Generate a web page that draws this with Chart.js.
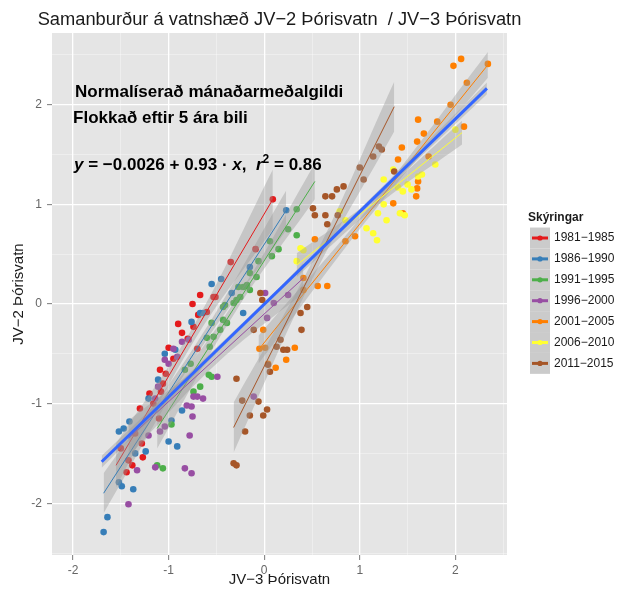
<!DOCTYPE html>
<html>
<head>
<meta charset="utf-8">
<script src="https://cdn.jsdelivr.net/npm/chart.js@4.4.1/dist/chart.umd.min.js"></script>
<style>
  html, body { margin: 0; padding: 0; background: #fff; }
</style>
</head>
<body>
<canvas id="myChart" width="620" height="589"></canvas>
<script>
// Five-year groups of monthly means, JV-3 (x) against JV-2 (y)
const periods = ['1981−1985', '1986−1990', '1991−1995', '1996−2000', '2001−2005', '2006−2010', '2011−2015'];
const periodColors = ['#E41A1C', '#377EB8', '#4DAF4A', '#984EA3', '#FF7F00', '#FFFF33', '#A65628'];

const points1981 = [[-0.86,-0.29],[-0.74,-0.23],[-0.69,-0.11],[-0.60,-0.08],[-1.00,-0.44],[-1.09,-0.66],[-1.03,-0.70],[-1.06,-0.80],[-1.08,-0.88],[-1.16,-1.00],[-1.28,-1.40],[-1.27,-1.54],[-1.42,-1.57],[-1.38,-1.62],[-1.44,-1.69],[-0.67,0.09],[-0.51,0.07],[0.09,1.05],[-0.09,0.55],[-0.35,0.42],[-0.53,0.07],[-1.50,-1.45],[-1.30,-1.05],[-1.20,-0.90],[-0.95,-0.55],[-0.80,-0.35],[-0.90,-0.20],[-0.75,0.00],[-0.70,-0.45],[-1.35,-1.30],[-1.10,-1.15]];
const points1986 = [[-0.76,-0.18],[-0.67,-0.09],[-1.04,-0.50],[-0.93,-0.46],[-1.11,-0.76],[-1.21,-0.95],[-1.41,-1.18],[-1.47,-1.25],[-1.52,-1.28],[-0.97,-1.17],[-0.86,-1.07],[-1.00,-1.38],[-0.91,-1.43],[-1.35,-1.50],[-1.24,-1.48],[-1.52,-1.79],[-1.49,-1.83],[-1.37,-1.86],[-0.22,-0.09],[-0.34,0.11],[-1.68,-2.29],[-1.64,-2.14],[0.23,0.94],[-0.15,0.37],[-0.64,-0.09],[-0.55,0.20],[-0.45,0.25]];
const points1991 = [[0.34,0.95],[0.34,0.69],[0.06,0.63],[0.08,0.48],[-0.06,0.43],[-0.15,0.31],[-0.08,0.27],[-0.22,0.17],[-0.32,0.01],[-0.43,-0.03],[-0.43,-0.16],[-0.46,-0.26],[-0.53,-0.33],[-0.57,-0.43],[-0.58,-0.71],[-0.55,-0.73],[-0.25,0.07],[-0.67,-0.83],[-0.74,-0.88],[-0.97,-1.21],[-1.12,-1.62],[-1.06,-1.65],[-0.41,-0.01],[-0.29,0.04],[-0.39,-0.19],[-0.55,-0.19],[-0.60,-0.34],[-0.77,-0.60],[-0.83,-0.66],[-0.18,0.19],[-0.15,0.14],[-0.27,0.17],[0.25,0.75],[0.15,0.55]];
const points1996 = [[-0.86,-0.38],[-0.79,-0.36],[-0.91,-0.53],[-1.04,-0.56],[-1.11,-0.83],[-1.14,-0.95],[-0.74,-0.93],[-0.70,-0.93],[-0.64,-0.95],[-0.81,-1.02],[-0.76,-1.03],[-0.75,-1.13],[-1.04,-1.23],[-1.09,-1.28],[-1.21,-1.32],[-0.78,-1.32],[-1.14,-1.64],[-0.83,-1.65],[-0.76,-1.70],[-1.33,-1.67],[-0.49,-0.73],[0.01,0.11],[0.03,-0.14],[0.10,0.01],[0.25,0.09],[-0.11,-0.93],[-1.42,-2.01],[-0.95,-0.45],[-1.00,-0.60]];
const points2001 = [[0.53,0.65],[0.66,0.18],[0.56,0.18],[0.41,0.26],[-0.01,-0.26],[0.01,-0.44],[-0.05,-0.45],[0.32,-0.44],[0.23,-0.56],[0.12,-0.64],[0.04,-0.60],[0.95,0.68],[0.41,0.14],[2.06,2.46],[1.98,2.39],[2.34,2.41],[2.12,2.22],[1.95,2.00],[1.81,1.83],[1.61,1.85],[1.67,1.71],[1.60,1.63],[1.44,1.57],[1.40,1.45],[2.09,1.78],[1.61,1.23],[1.60,1.16],[1.59,1.08],[1.45,0.91],[1.35,1.01],[1.72,1.48],[0.85,0.63]];
const points2006 = [[1.35,1.35],[1.25,1.25],[1.40,1.17],[1.45,1.13],[1.54,1.15],[1.61,1.28],[1.79,1.40],[1.19,0.91],[1.28,0.84],[1.07,0.76],[1.14,0.71],[1.18,0.64],[1.47,0.89],[2.00,1.75],[1.25,1.00],[1.42,0.91],[0.38,0.56],[0.41,0.54],[0.34,0.43],[0.79,0.93],[0.85,0.84],[1.50,1.20],[1.65,1.30]];
const points2011 = [[0.64,1.08],[0.71,1.08],[0.76,1.15],[0.83,1.18],[0.51,0.96],[0.53,0.89],[0.64,0.89],[0.66,0.80],[0.77,0.89],[0.45,-0.03],[0.38,-0.09],[0.39,-0.26],[-0.04,0.11],[-0.02,0.04],[-0.11,-0.26],[0.17,-0.36],[0.13,-0.43],[0.24,-0.46],[0.04,-0.61],[0.06,-0.68],[-0.29,-0.75],[-0.23,-0.97],[-0.06,-0.98],[-0.15,-1.12],[0.03,-1.06],[-0.01,-1.12],[-0.20,-1.28],[-0.32,-1.60],[-0.29,-1.62],[1.04,1.25],[1.14,1.48],[1.00,1.37],[1.20,1.58],[1.23,1.55],[0.20,-0.46],[1.36,1.33]];
const periodPoints = [points1981, points1986, points1991, points1996, points2001, points2006, points2011];

// Per-group linear fits: x span, fitted y at both ends, CI half-width (start, middle, end)
const fitX = [[-1.55, 0.09], [-1.68, 0.23], [-1.12, 0.53], [-1.42, 0.41], [-0.06, 2.34], [0.34, 2.07], [-0.32, 1.36]];
const fitY = [[-1.62, 1.05], [-1.90, 0.94], [-1.25, 1.23], [-1.35, 0.26], [-0.46, 2.40], [0.39, 1.72], [-1.24, 1.98]];
const fitBand = [[0.22, 0.08, 0.30], [0.20, 0.06, 0.20], [0.20, 0.06, 0.18], [0.18, 0.06, 0.15], [0.14, 0.05, 0.13], [0.12, 0.05, 0.12], [0.25, 0.09, 0.25]];

// Fit over all groups
const intercept = -0.0026;
const slope = 0.93;
const rSquared = 0.86;
const allRange = [-1.70, 2.33];
const allBand = [0.06, 0.02, 0.06];

const xTicks = [-2, -1, 0, 1, 2];
const yTicks = [-2, -1, 0, 1, 2];

const FONT = "'Liberation Sans', Arial, sans-serif";
const BAND_FILL = 'rgba(153,153,153,0.4)';
const CLEAR = 'rgba(0,0,0,0)';

function toXY(pairs) {
    return pairs.map(p => ({ x: p[0], y: p[1] }));
}

function bandEdge(xs, ys, hw, sign) {
    const xm = (xs[0] + xs[1]) / 2;
    const ym = (ys[0] + ys[1]) / 2;
    return [
        { x: xs[0], y: ys[0] + sign * hw[0] },
        { x: xm, y: ym + sign * hw[1] },
        { x: xs[1], y: ys[1] + sign * hw[2] }
    ];
}

function bandDatasets(xs, ys, hw, order) {
    const common = { type: 'line', pointRadius: 0, borderWidth: 0, borderColor: CLEAR, tension: 0.4, order: order };
    return [
        Object.assign({ data: bandEdge(xs, ys, hw, 1), fill: false }, common),
        Object.assign({ data: bandEdge(xs, ys, hw, -1), fill: '-1', backgroundColor: BAND_FILL }, common)
    ];
}

const datasets = [];

periodPoints.forEach((pts, i) => {
    datasets.push({
        label: periods[i],
        data: toXY(pts),
        backgroundColor: periodColors[i],
        borderWidth: 0,
        pointRadius: 3.3,
        order: 50 - i
    });
});

periods.forEach((p, i) => {
    datasets.push(...bandDatasets(fitX[i], fitY[i], fitBand[i], 30 - 2 * i));
    datasets.push({
        type: 'line',
        data: [{ x: fitX[i][0], y: fitY[i][0] }, { x: fitX[i][1], y: fitY[i][1] }],
        borderColor: periodColors[i],
        borderWidth: 1,
        pointRadius: 0,
        fill: false,
        order: 29 - 2 * i
    });
});

// overall regression line from the stated coefficients
const allY = allRange.map(x => intercept + slope * x);
datasets.push(...bandDatasets(allRange, allY, allBand, 2));
datasets.push({
    type: 'line',
    data: [{ x: allRange[0], y: allY[0] }, { x: allRange[1], y: allY[1] }],
    borderColor: '#3366FF',
    borderWidth: 3,
    pointRadius: 0,
    fill: false,
    order: 1
});

const isMajor = v => Math.abs(v - Math.round(v)) < 1e-6;

function gridOptions() {
    return {
        color: c => isMajor(c.tick.value) ? '#FFFFFF' : 'rgba(255,255,255,0.6)',
        lineWidth: c => isMajor(c.tick.value) ? 1.3 : 0.6,
        tickColor: c => isMajor(c.tick.value) ? '#7a7a7a' : CLEAR,
        tickLength: 5,
        tickWidth: 1
    };
}

const panelBackground = {
    id: 'panelBackground',
    beforeDraw(chart) {
        const { ctx, chartArea: a } = chart;
        ctx.save();
        ctx.fillStyle = '#E5E5E5';
        ctx.fillRect(a.left, a.top, a.right - a.left, a.bottom - a.top);
        ctx.restore();
    }
};

// Title, in-panel notes and the legend
const textLayer = {
    id: 'textLayer',
    afterDraw(chart) {
        const { ctx, chartArea: a } = chart;
        const xs = chart.scales.x, ys = chart.scales.y;
        ctx.save();
        ctx.textBaseline = 'middle';

        ctx.fillStyle = '#1a1a1a';
        ctx.font = '18.3px ' + FONT;
        ctx.textAlign = 'center';
        ctx.fillText('Samanburður á vatnshæð JV−2 Þórisvatn  / JV−3 Þórisvatn', (a.left + a.right) / 2, 20);

        ctx.textAlign = 'left';
        const left = xs.getPixelForValue(-2.0);
        ctx.fillStyle = '#000';
        ctx.font = 'bold 17px ' + FONT;
        ctx.fillText('Normalíserað mánaðarmeðalgildi', left + 2, ys.getPixelForValue(2.12));
        ctx.fillText('Flokkað eftir 5 ára bili', left, ys.getPixelForValue(1.86));

        const eqY = ys.getPixelForValue(1.39);
        const parts = [
            ['y', 'bold italic 17px'],
            [' = −' + Math.abs(intercept).toFixed(4) + ' + ' + slope.toFixed(2) + ' · ', 'bold 17px'],
            ['x', 'bold italic 17px'],
            [',  ', 'bold 17px'],
            ['r', 'bold italic 17px'],
            ['2', 'bold 12px', -6],
            [' = ' + rSquared.toFixed(2), 'bold 17px']
        ];
        let cx = left + 1;
        parts.forEach(([txt, f, dy]) => {
            ctx.font = f + ' ' + FONT;
            ctx.fillText(txt, cx, eqY + (dy || 0));
            cx += ctx.measureText(txt).width;
        });

        // legend
        const keyX = 530, keyW = 20, rowH = 20.9, row0 = 238;
        ctx.fillStyle = '#1a1a1a';
        ctx.font = 'bold 12px ' + FONT;
        ctx.fillText('Skýringar', 528, 218);
        periods.forEach((p, i) => {
            const cy = row0 + i * rowH;
            ctx.fillStyle = '#CBCBCB';
            ctx.fillRect(keyX, cy - rowH / 2, keyW, rowH);
            ctx.strokeStyle = periodColors[i];
            ctx.lineWidth = 3;
            ctx.beginPath();
            ctx.moveTo(keyX + 2, cy);
            ctx.lineTo(keyX + keyW - 2, cy);
            ctx.stroke();
            ctx.fillStyle = periodColors[i];
            ctx.beginPath();
            ctx.arc(keyX + keyW / 2, cy, 2.6, 0, Math.PI * 2);
            ctx.fill();
            ctx.fillStyle = '#1a1a1a';
            ctx.font = '12px ' + FONT;
            ctx.fillText(p, keyX + keyW + 4, cy);
        });
        ctx.restore();
    }
};

Chart.defaults.font.family = FONT;

const ctx = document.getElementById('myChart').getContext('2d');
new Chart(ctx, {
    type: 'scatter',
    data: { datasets: datasets },
    options: {
        responsive: false,
        animation: false,
        devicePixelRatio: 1,
        layout: { padding: { top: 33, right: 113, left: 0, bottom: 0 } },
        plugins: {
            legend: { display: false },
            tooltip: { enabled: false },
            title: { display: false }
        },
        scales: {
            x: {
                type: 'linear',
                min: -2.22,
                max: 2.54,
                border: { display: false },
                grid: gridOptions(),
                ticks: {
                    stepSize: 0.5,
                    includeBounds: false,
                    autoSkip: false,
                    maxRotation: 0,
                    padding: 3,
                    color: '#666',
                    font: { size: 12 },
                    callback: v => xTicks.includes(v) ? String(v) : ''
                },
                title: { display: true, text: 'JV−3 Þórisvatn', color: '#1a1a1a', font: { size: 15 }, padding: { top: 0, bottom: 0 } },
                afterFit: s => { s.height = 34; }
            },
            y: {
                type: 'linear',
                min: -2.52,
                max: 2.72,
                border: { display: false },
                grid: gridOptions(),
                ticks: {
                    stepSize: 0.5,
                    includeBounds: false,
                    autoSkip: false,
                    padding: 5,
                    color: '#666',
                    font: { size: 12 },
                    callback: v => yTicks.includes(v) ? String(v) : ''
                },
                title: { display: true, text: 'JV−2 Þórisvatn', color: '#1a1a1a', font: { size: 15 }, padding: { top: 10, bottom: 0 } },
                afterFit: s => { s.width = 52; }
            }
        }
    },
    plugins: [panelBackground, textLayer]
});
</script>
</body>
</html>
